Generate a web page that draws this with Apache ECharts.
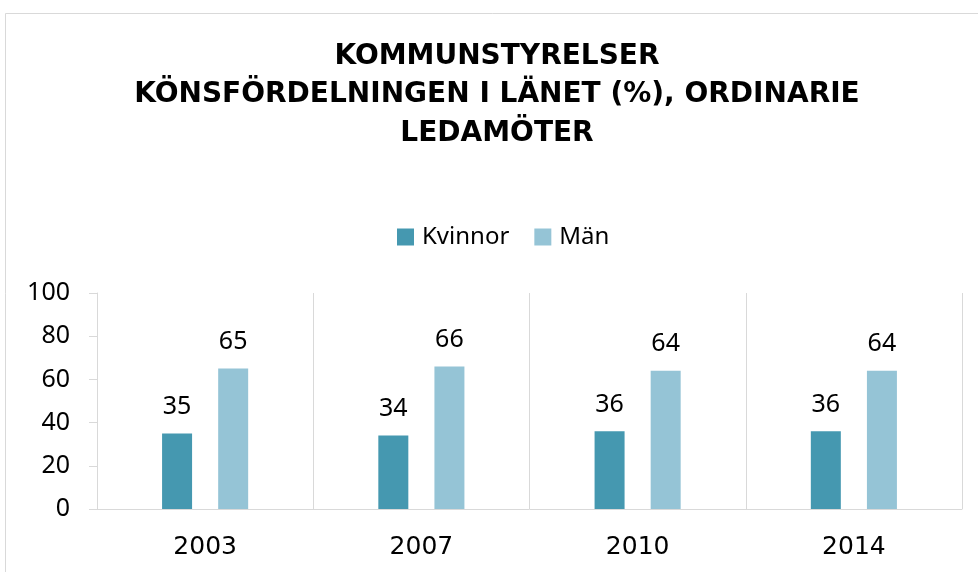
<!DOCTYPE html>
<html>
<head>
<meta charset="utf-8">
<title>Kommunstyrelser</title>
<script src="https://cdn.jsdelivr.net/npm/echarts@6/dist/echarts.min.js"></script>
<style>
  html, body { margin: 0; padding: 0; background: #fff; }
  #chart { width: 978px; height: 572px; }
</style>
</head>
<body>
<div id="chart"></div>
<script>
const years = ['2003', '2007', '2010', '2014']
const kvinnor = [35, 34, 36, 36]
const man = [65, 66, 64, 64]
const yTicks = { min: 0, max: 100, interval: 20 }

const font = 'Noto Sans'
const gridColor = '#d9d9d9'

const chart = echarts.init(document.getElementById('chart'))

chart.setOption({
  backgroundColor: '#fff',
  animation: false,
  graphic: [{
    // ram runt diagrammet
    type: 'rect',
    shape: { x: 5.5, y: 13.5, width: 1000, height: 600 },
    style: { fill: 'none', stroke: gridColor, lineWidth: 1 },
    silent: true
  }],
  title: {
    text: 'KOMMUNSTYRELSER\nKÖNSFÖRDELNINGEN I LÄNET (%), ORDINARIE\nLEDAMÖTER',
    left: 497,
    top: 37,
    padding: 0,
    textAlign: 'center',
    textStyle: {
      fontFamily: 'DejaVu Sans',
      fontWeight: 'bold',
      fontSize: 28,
      lineHeight: 38.5,
      color: '#000'
    }
  },
  legend: {
    left: 397,
    top: 225,
    padding: 0,
    itemWidth: 17,
    itemHeight: 17,
    itemGap: 25,
    icon: 'rect',
    textStyle: {
      fontFamily: font,
      fontSize: 24,
      color: '#000',
      padding: [0, 0, 0, 3]
    },
    data: ['Kvinnor', 'Män']
  },
  grid: {
    left: 97,
    right: 16,
    top: 293,
    bottom: 63
  },
  xAxis: {
    type: 'category',
    data: years,
    axisLine: { lineStyle: { color: gridColor } },
    axisTick: { show: false },
    splitLine: { show: true, lineStyle: { color: gridColor } },
    axisLabel: {
      fontFamily: 'DejaVu Sans',
      fontSize: 25,
      color: '#000',
      margin: 26
    }
  },
  yAxis: {
    type: 'value',
    min: yTicks.min,
    max: yTicks.max,
    interval: yTicks.interval,
    axisLine: { show: true, lineStyle: { color: gridColor } },
    axisTick: { show: true, length: 8, lineStyle: { color: gridColor } },
    splitLine: { show: false },
    axisLabel: {
      fontFamily: font,
      fontSize: 25,
      color: '#000',
      margin: 27
    }
  },
  series: [{
    name: 'Kvinnor',
    type: 'bar',
    data: kvinnor,
    barWidth: 30,
    barGap: '87%',
    itemStyle: { color: '#4598b0' },
    label: {
      show: true,
      position: 'top',
      distance: 14,
      fontFamily: font,
      fontSize: 25,
      color: '#000'
    }
  }, {
    name: 'Män',
    type: 'bar',
    data: man,
    barWidth: 30,
    itemStyle: { color: '#95c4d6' },
    label: {
      show: true,
      position: 'top',
      distance: 14,
      fontFamily: font,
      fontSize: 25,
      color: '#000'
    }
  }]
})
</script>
</body>
</html>
